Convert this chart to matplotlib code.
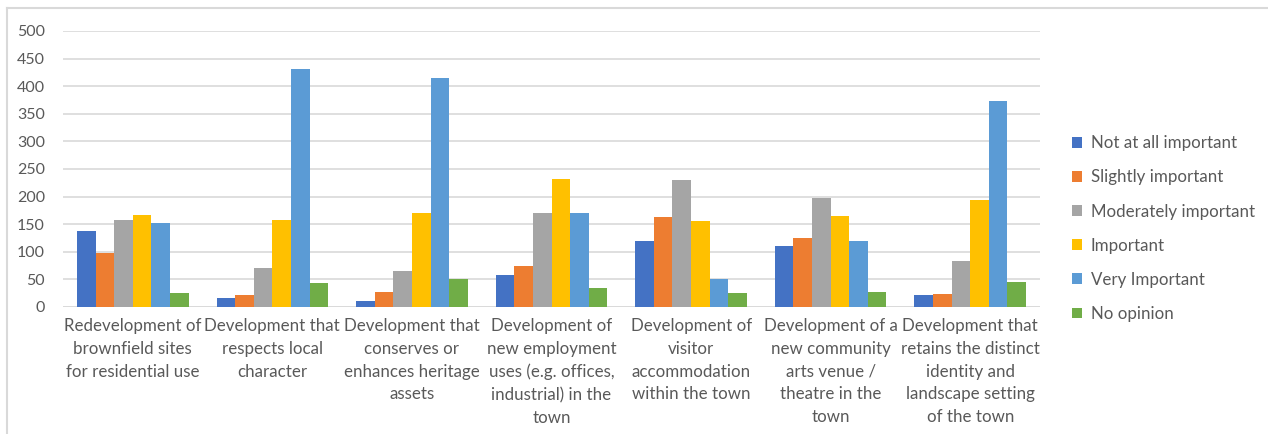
import matplotlib
matplotlib.use("Agg")
import matplotlib.pyplot as plt
import numpy as np
from matplotlib.lines import Line2D

plt.rcParams['font.family'] = ['Lato', 'DejaVu Sans']

categories = [
    "Redevelopment of\nbrownfield sites\nfor residential use",
    "Development that\nrespects local\ncharacter",
    "Development that\nconserves or\nenhances heritage\nassets",
    "Development of\nnew employment\nuses (e.g. offices,\nindustrial) in the\ntown",
    "Development of\nvisitor\naccommodation\nwithin the town",
    "Development of a\nnew community\narts venue /\ntheatre in the\ntown",
    "Development that\nretains the distinct\nidentity and\nlandscape setting\nof the town",
]
series_names = ["Not at all important", "Slightly important", "Moderately important",
                "Important", "Very Important", "No opinion"]
not_at_all = [138, 16, 11, 58, 119, 110, 21]
slightly = [98, 21, 28, 75, 163, 125, 23]
moderately = [158, 70, 66, 171, 230, 197, 84]
important = [167, 157, 171, 231, 155, 165, 193]
very_important = [152, 432, 414, 171, 51, 119, 373]
no_opinion = [25, 44, 51, 34, 25, 28, 46]
colors = ["#4472C4", "#ED7D31", "#A5A5A5", "#FFC000", "#5B9BD5", "#70AD47"]

values = [not_at_all, slightly, moderately, important, very_important, no_opinion]

fig = plt.figure(figsize=(12.68, 4.34), dpi=100)
ax = fig.add_axes([63/1268, 1 - 307/434, (1040-63)/1268, (307-31)/434])

x = np.arange(len(categories))
w = 0.8 / 6
for i, (vals, name, c) in enumerate(zip(values, series_names, colors)):
    ax.bar(x - 0.4 + w * (i + 0.5), vals, width=w, color=c, label=name, zorder=3)

ax.set_xlim(-0.5, len(categories) - 0.5)
ax.set_ylim(0, 500)
ax.set_yticks(range(0, 501, 50))
ax.grid(axis='y', color='#d9d9d9', linewidth=1.2, zorder=0)
for s in ax.spines.values():
    s.set_visible(False)
ax.axhline(0, color='#d9d9d9', linewidth=1.2, zorder=1)
ax.tick_params(length=0, labelsize=11.5, colors='#595959', pad=13)
ax.set_xticks(x)
ax.set_xticklabels(categories, fontsize=12.2, color='#595959', linespacing=1.52, va='top')
ax.tick_params(axis='x', pad=8)

ax.legend(loc='upper left', bbox_to_anchor=(1057/1268, 1 - 120/434), bbox_transform=fig.transFigure,
          frameon=False, fontsize=12.2, labelcolor='#595959', handlelength=0.6, handleheight=0.6,
          handletextpad=0.5, labelspacing=1.07)

# chart border
fig.add_artist(Line2D([7/1268, 7/1268], [0, 1 - 8/434], color='#d9d9d9', lw=1.5))
fig.add_artist(Line2D([7/1268, 1], [1 - 8/434, 1 - 8/434], color='#d9d9d9', lw=1.5))

fig.savefig("out.png", dpi=100)
